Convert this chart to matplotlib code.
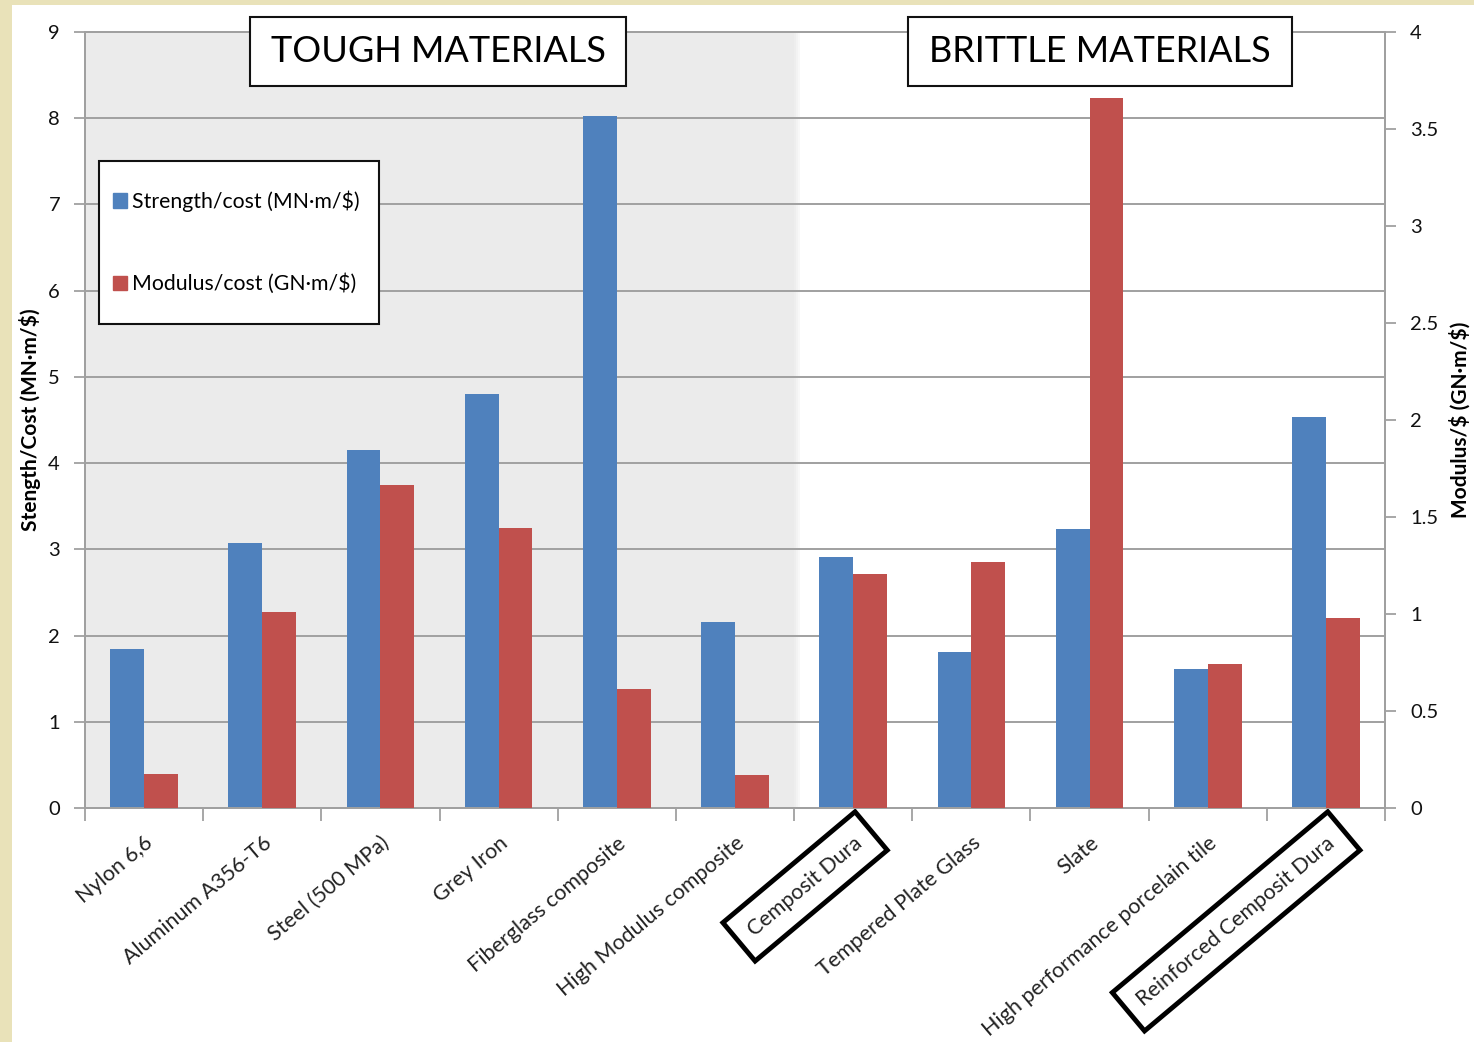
import matplotlib
matplotlib.use("Agg")
import matplotlib.pyplot as plt
from matplotlib.patches import Rectangle, Patch
import numpy as np

plt.rcParams['font.family'] = ['Lato', 'DejaVu Sans']

# materials and their strength/cost and modulus/cost figures
materials = ['Nylon 6,6', 'Aluminum A356-T6', 'Steel (500 MPa)', 'Grey Iron',
             'Fiberglass composite', 'High Modulus composite', 'Cemposit Dura',
             'Tempered Plate Glass', 'Slate', 'High performance porcelain tile',
             'Reinforced Cemposit Dura']
strength_cost = [1.84, 3.07, 4.15, 4.80, 8.03, 2.16, 2.91, 1.81, 3.24, 1.61, 4.54]
modulus_cost = [0.175, 1.01, 1.665, 1.443, 0.613, 0.17, 1.206, 1.268, 3.66, 0.742, 0.98]
n_tough = 6
boxed = ['Cemposit Dura', 'Reinforced Cemposit Dura']

blue = '#4f81bd'
red = '#c0504d'
grid_grey = '#a0a0a0'

fig = plt.figure(figsize=(14.74, 10.42), dpi=100)
fig.patch.set_facecolor('#e9e2b9')
fig.add_artist(Rectangle((12 / 1474, 0), 1, 1 - 5 / 1042, transform=fig.transFigure,
                         facecolor='white', edgecolor='none', zorder=0))

ax = fig.add_axes([85 / 1474, 1 - 808 / 1042, 1300 / 1474, 776 / 1042])
ax.set_facecolor('none')
ax2 = ax.twinx()

x = np.arange(len(materials))
w = 0.286

# grey band behind the tough materials, with a faint soft edge
ax.axvspan(-0.5, n_tough - 0.5, color='#ebebeb', zorder=0, lw=0)
for i, c in enumerate(['#eeeeee', '#f3f3f3', '#f8f8f8']):
    ax.axvspan(n_tough - 0.5 + i * 0.017, n_tough - 0.5 + (i + 1) * 0.017,
               color=c, zorder=0, lw=0)

ax.bar(x - w / 2, strength_cost, w, color=blue, zorder=3)
ax2.bar(x + w / 2, modulus_cost, w, color=red, zorder=3)

ax.set_xlim(-0.5, len(materials) - 0.5)
ax.set_ylim(0, 9)
ax2.set_ylim(0, 4)
ax.set_yticks(range(10))
ax2.set_yticks(np.arange(0, 4.01, 0.5))
ax2.set_yticklabels(['0', '0.5', '1', '1.5', '2', '2.5', '3', '3.5', '4'])

ax.yaxis.grid(True, color=grid_grey, lw=1.4, zorder=1)
ax.set_axisbelow(True)

for a in (ax, ax2):
    for s in a.spines.values():
        s.set_color(grid_grey)
        s.set_linewidth(1.4)
    a.tick_params(axis='y', length=8, width=1.3, color=grid_grey, labelsize=14.5,
                  labelcolor='#111111', pad=10)

# category ticks sit at the boundaries between groups
ax.set_xticks(x)
ax.tick_params(axis='x', length=0, labelsize=15.5, labelcolor='#222222', pad=18)
ax.set_xticks(np.arange(-0.5, len(materials) + 0.5, 1), minor=True)
ax.tick_params(axis='x', which='minor', length=9, width=1.3, color=grid_grey)
ax.set_xticklabels(materials, rotation=40, ha='right', rotation_mode='anchor')
for lbl in ax.get_xticklabels():
    if lbl.get_text() in boxed:
        lbl.set_bbox(dict(boxstyle='square,pad=0.7', facecolor='none',
                          edgecolor='black', linewidth=3.5))

ax.set_ylabel('Stength/Cost (MN·m/$)', fontsize=15, fontweight='bold', labelpad=5)
ax2.set_ylabel(r'Modulus/\$ (GN·m/\$)', fontsize=15, fontweight='bold', labelpad=8)

# section headings
for x0, wd, txt in [(0.1269, 0.2892, 'TOUGH MATERIALS'),
                    (0.6331, 0.2954, 'BRITTLE MATERIALS')]:
    ax2.add_patch(Rectangle((x0, 0.9304), wd, 0.0889, transform=ax2.transAxes,
                            facecolor='white', edgecolor='#111111', lw=1.5,
                            clip_on=False, zorder=10))
    ax2.text(x0 + wd / 2, 0.9304 + 0.0889 / 2, txt, transform=ax2.transAxes,
             ha='center', va='center', fontsize=26, color='black', zorder=11)

# legend frame
ax2.add_patch(Rectangle((0.0108, 0.6237), 0.2154, 0.2100, transform=ax2.transAxes,
                        facecolor='white', edgecolor='#111111', lw=1.5, zorder=9))
handles = [Patch(color=blue, label='Strength/cost (MN·m/$)'),
           Patch(color=red, label='Modulus/cost (GN·m/$)')]
leg = ax2.legend(handles=handles, loc='center left', bbox_to_anchor=(0.0100, 0.729),
                 fontsize=15.3, frameon=False, labelspacing=2.9,
                 handlelength=0.65, handleheight=0.65, handletextpad=0.25,
                 borderpad=0.0, borderaxespad=0.7)
leg.set_zorder(10)

fig.savefig('out.png', dpi=100, facecolor=fig.get_facecolor())
